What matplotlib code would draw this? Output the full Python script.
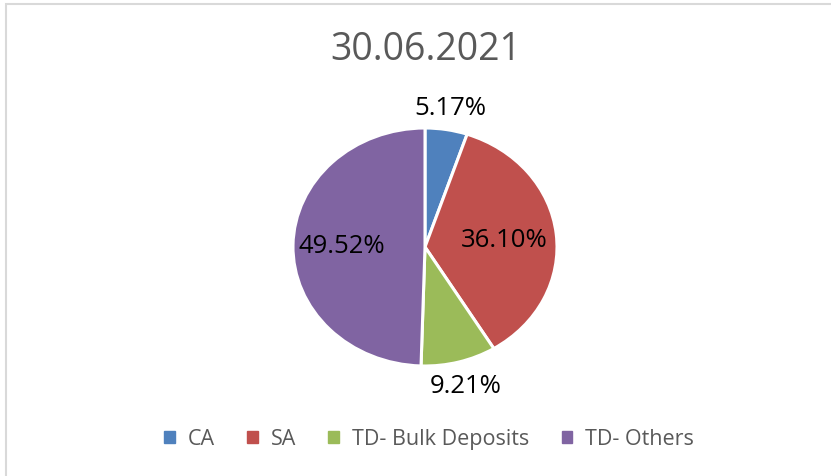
import matplotlib
matplotlib.use('Agg')
import matplotlib.pyplot as plt
from matplotlib.patches import Rectangle
import numpy as np

categories = ['CA', 'SA', 'TD- Bulk Deposits', 'TD- Others']
shares = [5.17, 36.10, 9.21, 49.52]
labels = ['5.17%', '36.10%', '9.21%', '49.52%']
colors = ['#4F81BD', '#C0504D', '#9BBB59', '#8064A2']
label_dist = [1.19, 0.6, 1.2, 0.63]

W, H = 831, 477
fig = plt.figure(figsize=(W / 100, H / 100), dpi=100)
plt.rcParams['font.family'] = ['Open Sans', 'DejaVu Sans']

# chart frame
fig.add_artist(Rectangle((6 / W, -0.1), 1.2, (H - 5) / H + 0.1, transform=fig.transFigure,
                         fill=False, edgecolor='#D9D9D9', lw=1.5))

# pie: slightly wider than tall, like the source
cx, cy, rx, ry = 425, 248, 132, 119
ax = fig.add_axes([(cx - rx) / W, (H - cy - ry) / H, 2 * rx / W, 2 * ry / H])
wedges, _ = ax.pie(shares, colors=colors, startangle=90, counterclock=False,
                   wedgeprops=dict(edgecolor='white', linewidth=2.2))
ax.set_aspect('auto')
ax.set_xlim(-1, 1)
ax.set_ylim(-1, 1)
ax.axis('off')

for w, lab, d in zip(wedges, labels, label_dist):
    ang = np.deg2rad((w.theta1 + w.theta2) / 2)
    ax.text(d * np.cos(ang), d * np.sin(ang), lab, ha='center', va='center',
            fontsize=18.5, color='black', clip_on=False)

fig.text(426 / W, 1 - 50 / H, '30.06.2021', ha='center', va='center',
         fontsize=27, color='#595959')

handles = [Rectangle((0, 0), 1, 1, color=c) for c in colors]
fig.legend(handles, categories, loc='center', bbox_to_anchor=(429 / W, 1 - 440 / H),
           ncol=4, frameon=False, fontsize=15.5, labelcolor='#595959',
           handlelength=0.5, handleheight=0.5, handletextpad=0.6, columnspacing=1.5)

plt.savefig('out.png', dpi=100)
